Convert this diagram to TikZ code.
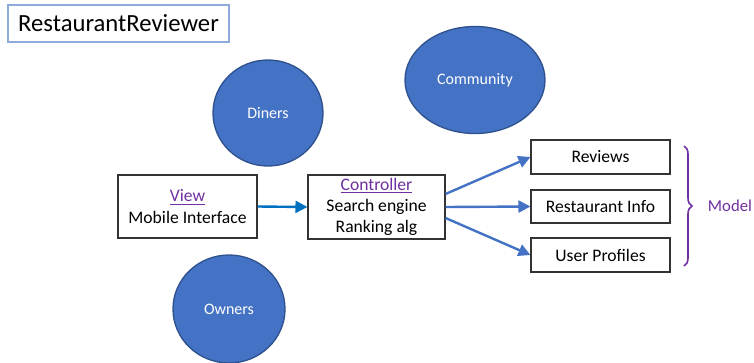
\documentclass[tikz,border=0pt]{standalone}
\usepackage{fontspec}
\setmainfont{Carlito}
\usetikzlibrary{arrows.meta,decorations.pathreplacing,shapes.geometric,calc}
\definecolor{bluefill}{HTML}{4472C4}
\definecolor{blueedge}{HTML}{2F528F}
\definecolor{arrblue}{HTML}{0070C0}
\definecolor{purp}{HTML}{7030A0}
\definecolor{titleedge}{HTML}{8FAADC}
\begin{document}
\begin{tikzpicture}[x=0.75pt,y=-0.75pt,
  blob/.style={ellipse,draw=blueedge,fill=bluefill,line width=1pt,text=white,font=\fontsize{12}{14}\selectfont},
  box/.style={draw=black!80,line width=0.8pt,fill=white,align=center,font=\fontsize{13.2}{16}\selectfont,inner sep=0pt},
  link/.style={draw=bluefill,line width=1.8pt,-{Triangle[length=9pt,width=9pt]}},
  lbl/.style={text=purp}]
\useasboundingbox (0,0) rectangle (754,362);
\fill[white] (0,0) rectangle (754,362);
\node[draw=titleedge,line width=0.8pt,minimum width=221*0.75pt,minimum height=37*0.75pt,inner sep=0pt,font=\fontsize{18.5}{22}\selectfont] (title) at (118.5,23.5) {RestaurantReviewer};
\begin{scope}
\clip (0,0) rectangle (754,362);
\node[blob,minimum width=110*0.75pt,minimum height=106*0.75pt,inner sep=0pt] (diners) at (268,113) {Diners};
\node[blob,minimum width=140*0.75pt,minimum height=107*0.75pt,inner sep=0pt] (community) at (475,80) {Community};
\node[blob,minimum width=112*0.75pt,minimum height=108*0.75pt,inner sep=0pt] (owners) at (229,309) {Owners};
\end{scope}
\node[box,minimum width=139*0.75pt,minimum height=63*0.75pt] (view) at (187.5,206.5) {\textcolor{purp}{\underline{View}}\\Mobile Interface};
\node[box,minimum width=137*0.75pt,minimum height=64*0.75pt] (ctrl) at (376.5,207) {\textcolor{purp}{\underline{Controller}}\\Search engine\\Ranking alg};
\node[box,minimum width=139*0.75pt,minimum height=34*0.75pt] (reviews) at (600.5,157) {Reviews};
\node[box,minimum width=139*0.75pt,minimum height=33*0.75pt] (info) at (600.5,206.5) {Restaurant Info};
\node[box,minimum width=139*0.75pt,minimum height=34*0.75pt] (users) at (600.5,255) {User Profiles};
\draw[link,draw=arrblue,fill=arrblue] (view.east) -- (ctrl.west);
\draw[link,fill=bluefill] ($(ctrl.east)+(0,-13)$) -- (reviews.west);
\draw[link,fill=bluefill] (ctrl.east) -- (info.west);
\draw[link,fill=bluefill] ($(ctrl.east)+(0,11)$) -- (users.west);
\draw[purp,line width=1.2pt,decorate,decoration={brace,amplitude=6pt}] (684,146) -- (684,266);
\node[lbl,font=\fontsize{12.5}{14}\selectfont,anchor=east,inner sep=1pt] (model) at (753.5,206) {Model};
\end{tikzpicture}
\end{document}
